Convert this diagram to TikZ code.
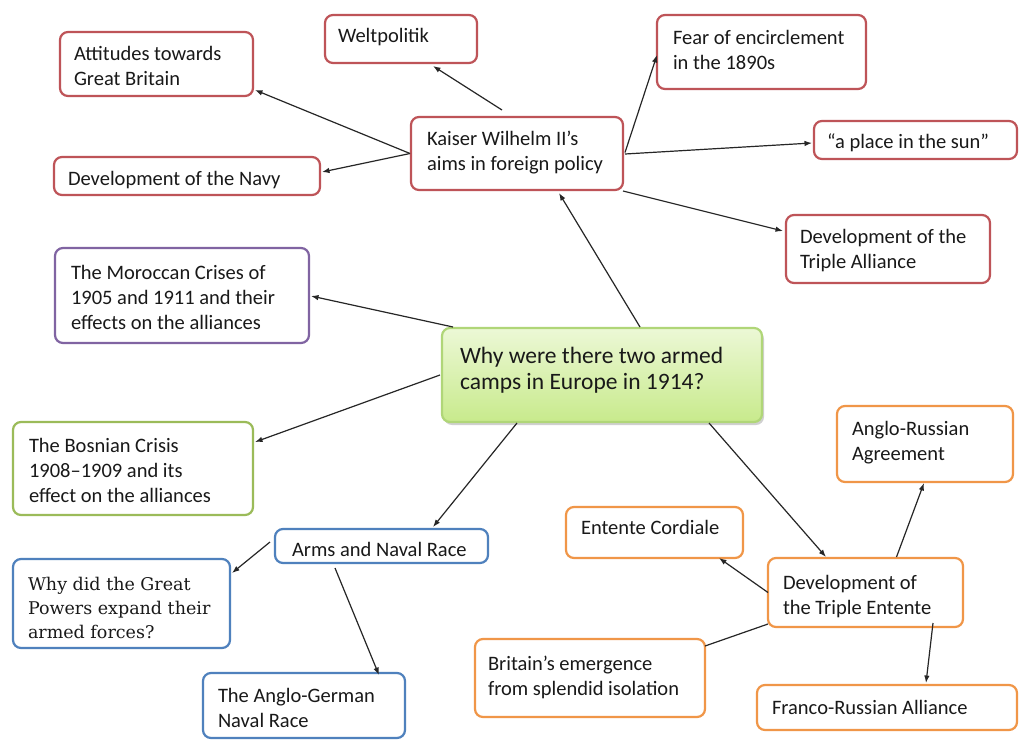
\documentclass[tikz,border=0pt]{standalone}
\usepackage{fontspec}
\setmainfont{Carlito}
\newfontfamily\serifbox{DejaVu Serif}
\usetikzlibrary{arrows.meta,calc,shadows}
\definecolor{cred}{RGB}{190,84,88}
\definecolor{cpurple}{RGB}{128,100,162}
\definecolor{cgreen}{RGB}{155,187,89}
\definecolor{cblue}{RGB}{79,129,189}
\definecolor{corange}{RGB}{240,150,72}
\definecolor{txt}{RGB}{25,25,25}
\definecolor{ctop}{RGB}{236,248,214}
\definecolor{cbot}{RGB}{200,234,140}
\definecolor{cedge}{RGB}{176,214,120}
\newcommand\bxtext[4]{\parbox[t][#1][t]{#2}{\raggedright\rule{0pt}{#3}#4}}
\tikzset{
  box/.style={draw, line width=2.2pt, rounded corners=8pt, fill=white,
    anchor=north west, inner ysep=0pt, outer sep=0pt, text=txt,
    font=\fontsize{20.5}{25}\selectfont},
  redbox/.style={box, draw=cred},
  purplebox/.style={box, draw=cpurple},
  greenbox/.style={box, draw=cgreen},
  bluebox/.style={box, draw=cblue},
  orangebox/.style={box, draw=corange},
  centerbox/.style={box, draw=cedge, top color=ctop, bottom color=cbot,
    font=\fontsize{23.5}{26}\selectfont,
    drop shadow={shadow xshift=2pt, shadow yshift=-3pt, opacity=0.3, fill=black!60}},
  conn/.style={line width=1.2pt, draw=black!85},
  arr/.style={conn, -{Latex[length=7.5pt,width=5.5pt]}}
}
\begin{document}
\begin{tikzpicture}[x=1pt,y=-1pt]
\useasboundingbox[fill=white] (0,0) rectangle (1020,740);

% red group
\node[redbox, inner xsep=14pt] (att) at (60,32) {\bxtext{64pt}{165pt}{28pt}{Attitudes towards\\Great Britain}};
\node[redbox, inner xsep=13pt] (welt) at (325,15) {\bxtext{48pt}{126pt}{27pt}{Weltpolitik}};
\node[redbox, inner xsep=16pt] (fear) at (657,15) {\bxtext{74pt}{177pt}{29pt}{Fear of encirclement\\in the 1890s}};
\node[redbox, inner xsep=16pt] (kaiser) at (411,117) {\bxtext{73pt}{180pt}{28pt}{Kaiser Wilhelm II’s\\aims in foreign policy}};
\node[redbox, inner xsep=13pt] (sun) at (814,121) {\bxtext{38pt}{177pt}{27pt}{“a place in the sun”}};
\node[redbox, inner xsep=14pt] (navy) at (54,157) {\bxtext{38pt}{238pt}{28pt}{Development of the Navy}};
\node[redbox, inner xsep=14pt] (ta) at (786,215) {\bxtext{68pt}{176pt}{28pt}{Development of the\\Triple Alliance}};

% purple
\node[purplebox, inner xsep=16pt] (moro) at (55,248) {\bxtext{95pt}{222pt}{31pt}{The Moroccan Crises of\\1905 and 1911 and their\\effects on the alliances}};

% center
\node[centerbox, inner xsep=18pt] (center) at (442,328) {\bxtext{94pt}{284pt}{35pt}{Why were there two armed\\camps in Europe in 1914?}};

% green
\node[greenbox, inner xsep=16pt] (bos) at (13,422) {\bxtext{93pt}{208pt}{30pt}{The Bosnian Crisis\\1908–1909 and its\\effect on the alliances}};

% blue
\node[bluebox, inner xsep=17pt] (arms) at (275,529) {\bxtext{34pt}{179pt}{27pt}{Arms and Naval Race}};
\node[bluebox, inner xsep=15pt, font=\serifbox\fontsize{17.5}{24}\selectfont] (why) at (13,559) {\bxtext{89pt}{187pt}{31pt}{Why did the Great\\Powers expand their\\armed forces?}};
\node[bluebox, inner xsep=15pt] (ag) at (203,673) {\bxtext{65pt}{172pt}{29pt}{The Anglo-German\\Naval Race}};

% orange
\node[orangebox, inner xsep=15pt] (ec) at (566,507) {\bxtext{51pt}{147pt}{27pt}{Entente Cordiale}};
\node[orangebox, inner xsep=15pt] (ar) at (837,406) {\bxtext{76pt}{146pt}{29pt}{Anglo-Russian\\Agreement}};
\node[orangebox, inner xsep=15pt] (te) at (768,558) {\bxtext{69pt}{165pt}{31pt}{Development of\\the Triple Entente}};
\node[orangebox, inner xsep=13pt] (brit) at (475,639) {\bxtext{78pt}{204pt}{31pt}{Britain’s emergence\\from splendid isolation}};
\node[orangebox, inner xsep=15pt] (fr) at (757,685) {\bxtext{45pt}{230pt}{29pt}{Franco-Russian Alliance}};

% connectors
\draw[arr] ($(kaiser.west)+(-1,0)$) -- ($(att.south east)+(2,-6)$);
\draw[arr] ($(kaiser.west)+(-1,0)$) -- ($(navy.east)+(2,-4)$);
\draw[arr] ($(kaiser.north)+(-15,-7)$) -- ($(welt.south)+(32,3)$);
\draw[arr] ($(kaiser.east)+(2,-1)$) -- ($(fear.west)+(0,3)$);
\draw[arr] ($(kaiser.east)+(2,0.5)$) -- ($(sun.west)+(-2,3)$);
\draw[arr] ($(kaiser.south east)+(0,1)$) -- ($(ta.west)+(-3,-18)$);
\draw[arr] ($(center.north)+(38,-1)$) -- ($(kaiser.south)+(42,3)$);
\draw[arr] ($(center.north west)+(11,-1)$) -- ($(moro.east)+(2,0.5)$);
\draw[arr] ($(center.west)+(-2,0)$) -- ($(bos.north east)+(2,20)$);
\draw[arr] ($(center.south)+(-85,1)$) -- ($(arms.north)+(51.5,-2)$);
\draw[arr] ($(center.south)+(107,1)$) -- ($(te.north)+(-39.5,-1)$);
\draw[arr] ($(arms.west)+(-5,-4)$) -- ($(why.north east)+(2,14)$);
\draw[arr] ($(arms.south)+(-46.5,5)$) -- ($(ag.north)+(75,2)$);
\draw[arr] ($(te.north)+(31,-1)$) -- ($(ar.south)+(-1,1)$);
\draw[arr] ($(te.west)+(0,0)$) -- ($(ec.south east)+(-24,0)$);
\draw[conn] ($(te.south west)+(0,-3)$) -- ($(brit.north east)+(0,7)$);
\draw[arr] ($(te.south east)+(-30,-4)$) -- ($(fr.north)+(39,-2)$);
\end{tikzpicture}
\end{document}
